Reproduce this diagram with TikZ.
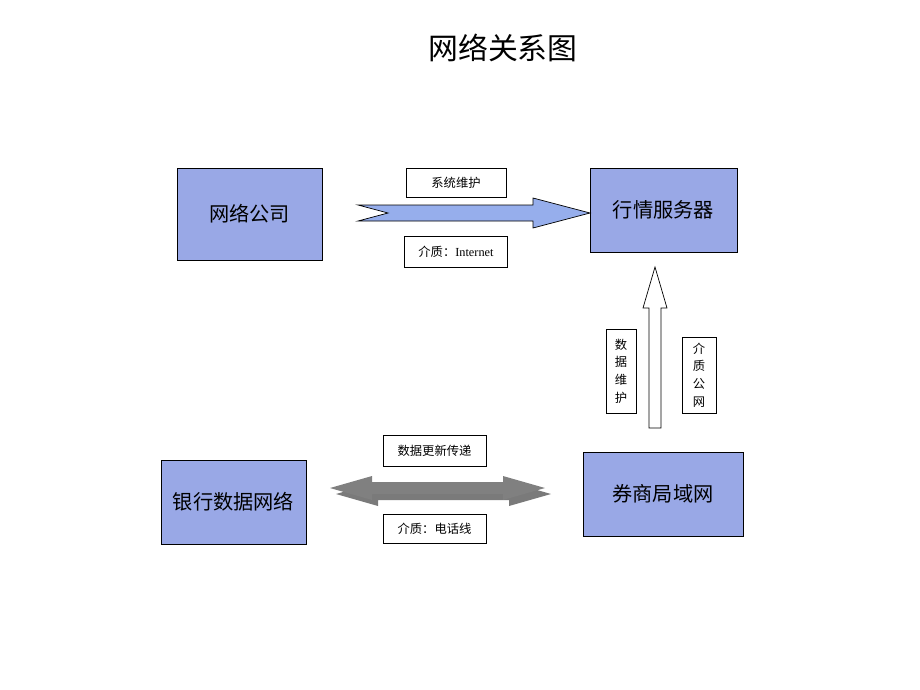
\documentclass[tikz,border=0pt]{standalone}
\usepackage{fontspec}
\setmainfont{Liberation Serif}
\newfontfamily\cjk{Noto Sans CJK SC}
\usetikzlibrary{positioning}
\definecolor{boxblue}{RGB}{153,168,230}
\definecolor{arrowblue}{RGB}{150,174,236}
\definecolor{arrowgray}{RGB}{128,128,128}
\definecolor{shadegray}{RGB}{122,122,122}

\begin{document}
\begin{tikzpicture}[
        x=0.02cm, y=-0.02cm, % one unit = one pixel of the 920x690 sheet
        site/.style={rectangle, draw, fill=boxblue, minimum height=1.68cm,
                     font=\cjk\fontsize{11.5}{14}\selectfont},
        tag/.style={rectangle, draw, fill=white, inner sep=0pt,
                    minimum width=2.06cm, minimum height=0.6cm, font=\fontsize{7}{8}\selectfont},
        vtag/.style={rectangle, draw, fill=white, inner sep=0pt, align=center,
                     font=\cjk\fontsize{7}{10}\selectfont},
        blockarrow/.style={draw, fill=arrowblue},
        hollowarrow/.style={draw, fill=white},
        grayarrow/.style={fill=arrowgray}
      ]

      \useasboundingbox (0,0) rectangle (920,690);

      % Title
      \node (title) at (503,48) {\cjk\fontsize{17}{20}\selectfont 网络关系图};

      % --- Sites ---
      \node (netco) [site, minimum width=2.9cm, minimum height=1.84cm] at (249.5,214) {网络公司};
      \node (quotesrv) [site, minimum width=2.94cm] at (663.5,210) {行情服务器};
      \node (bank) [site, minimum width=2.9cm] at (233.5,502) {银行数据网络};
      \node (lan) [site, minimum width=3.2cm] at (663,494) {券商局域网};

      % --- Labels on the links ---
      \node (maint) [tag, minimum width=2cm, minimum height=0.58cm] at (456,182.5) {\cjk 系统维护};
      \node (inet) [tag, minimum height=0.62cm, below=0.78cm of maint.south, anchor=north] {{\cjk 介质：}Internet};
      \node (dataup) [tag, minimum height=0.62cm] at (434.5,450.5) {\cjk 数据更新传递};
      \node (phone) [tag, minimum height=0.58cm, below=0.96cm of dataup.south, anchor=north] {\cjk 介质：电话线};
      \node (datamaint) [vtag, minimum width=0.6cm, minimum height=1.68cm] at (621,371) {数\\据\\维\\护};
      \node (pubnet) [vtag, minimum width=0.68cm, minimum height=1.52cm] at (699,375) {介\\质\\公\\网};

      % --- Block arrows ---
      % netco -> quotesrv
      \draw [blockarrow] (358,205) -- (533,205) -- (533,198) -- (590,213) -- (533,228)
            -- (533,221) -- (358,221) -- (388,213) -- cycle;
      % lan -> quotesrv
      \draw [hollowarrow] (649,428) -- (649,308) -- (643,308) -- (655,267) -- (667,308)
            -- (661,308) -- (661,428) -- cycle;
      % bank <-> lan
      \fill [shadegray] (336,494) -- (378,482) -- (378,488) -- (509,488) -- (509,482) -- (551,494)
            -- (509,506) -- (509,500) -- (378,500) -- (378,506) -- cycle;
      \fill [grayarrow] (330,488) -- (372,476) -- (372,482) -- (503,482) -- (503,476) -- (545,488)
            -- (503,500) -- (503,494) -- (372,494) -- (372,500) -- cycle;

    \end{tikzpicture}
\end{document}
